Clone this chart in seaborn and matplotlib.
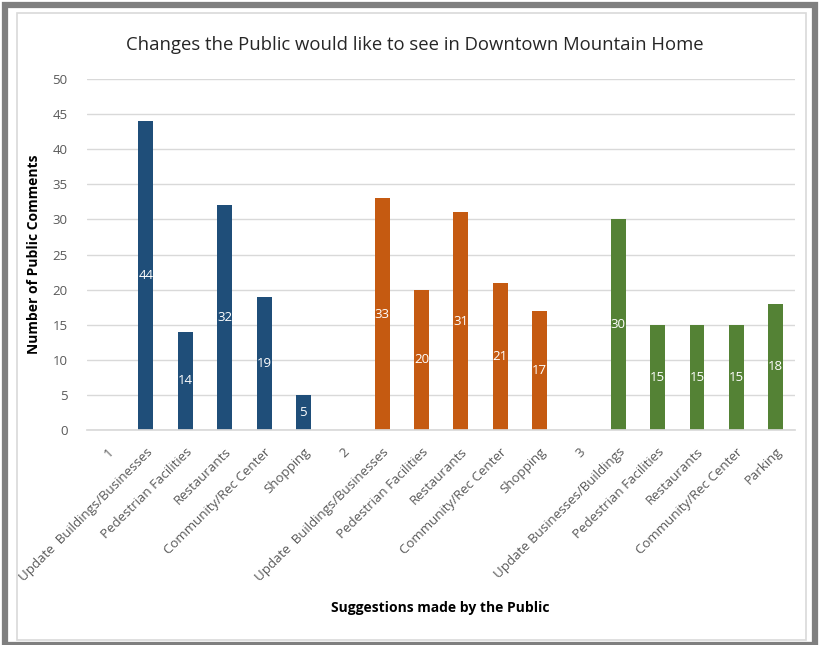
import matplotlib
matplotlib.use("Agg")
import matplotlib.pyplot as plt
from matplotlib.patches import Rectangle
import seaborn as sns
import pandas as pd
import numpy as np

# ---- data ----
groups = ["1", "2", "3"]
labels_g1 = ["Update  Buildings/Businesses", "Pedestrian Facilities", "Restaurants",
             "Community/Rec Center", "Shopping"]
values_g1 = [44, 14, 32, 19, 5]
labels_g2 = ["Update  Buildings/Businesses", "Pedestrian Facilities", "Restaurants",
             "Community/Rec Center", "Shopping"]
values_g2 = [33, 20, 31, 21, 17]
labels_g3 = ["Update Businesses/Buildings", "Pedestrian Facilities", "Restaurants",
             "Community/Rec Center", "Parking"]
values_g3 = [30, 15, 15, 15, 18]
colors = {"1": "#1F4E79", "2": "#C55A11", "3": "#548235"}

title = "Changes the Public would like to see in Downtown Mountain Home"
ylabel = "Number of Public Comments"
xlabel = "Suggestions made by the Public"

# ---- build table ----
order, ticklabels, rows = [], [], []
for g, labs, vals in zip(groups, [labels_g1, labels_g2, labels_g3],
                         [values_g1, values_g2, values_g3]):
    order.append(f"{g}|header")
    ticklabels.append(g)
    for lab, v in zip(labs, vals):
        key = f"{g}|{lab}"
        order.append(key)
        ticklabels.append(lab)
        rows.append({"key": key, "value": v, "group": g})
df = pd.DataFrame(rows)

sns.set_theme(style="white")
plt.rcParams["font.family"] = ["Open Sans", "DejaVu Sans"]

fig = plt.figure(figsize=(8.2, 6.45), dpi=100)
ax = fig.add_axes([0.106, 0.3333, 0.864, 0.5442])

sns.barplot(data=df, x="key", y="value", hue="group", order=order,
            palette=colors, dodge=False, width=0.38, ax=ax, legend=False,
            saturation=1, edgecolor="none")

ax.set_ylim(0, 50)
ax.set_yticks(range(0, 51, 5))
ax.yaxis.grid(True, color="#D9D9D9", linewidth=1)
ax.set_axisbelow(True)
for s in ["left", "right", "top"]:
    ax.spines[s].set_visible(False)
ax.spines["bottom"].set_color("#D9D9D9")
ax.tick_params(axis="both", length=0, colors="#595959", labelsize=9.5)
ax.tick_params(axis="y", pad=14)
ax.set_xticks(range(len(order)))
ax.set_xticklabels(ticklabels, rotation=45, ha="right", rotation_mode="anchor")
ax.tick_params(axis="x", pad=11)

for cont in ax.containers:
    for bar in cont:
        h = bar.get_height()
        if np.isnan(h) or h == 0:
            continue
        ax.text(bar.get_x() + bar.get_width() / 2, h / 2, f"{int(h)}",
                ha="center", va="center", color="white", fontsize=9.5)

ax.set_xlabel("")
ax.set_ylabel(ylabel, fontsize=10, fontweight="bold", color="black", labelpad=8)
fig.text(0.537, 0.058, xlabel, ha="center", va="center", fontsize=10,
         fontweight="bold", color="black")
fig.text(0.506, 0.930, title, ha="center", va="center", fontsize=13.3,
         color="#262626")

# frame
fig.patches.append(Rectangle((0.006, 0.0), 0.988, 0.992, transform=fig.transFigure,
                             fill=False, edgecolor="#7F7F7F", linewidth=4.5))
fig.patches.append(Rectangle((0.021, 0.008), 0.962, 0.972, transform=fig.transFigure,
                             fill=False, edgecolor="#D9D9D9", linewidth=1.2))

fig.savefig("out.png", dpi=100)
